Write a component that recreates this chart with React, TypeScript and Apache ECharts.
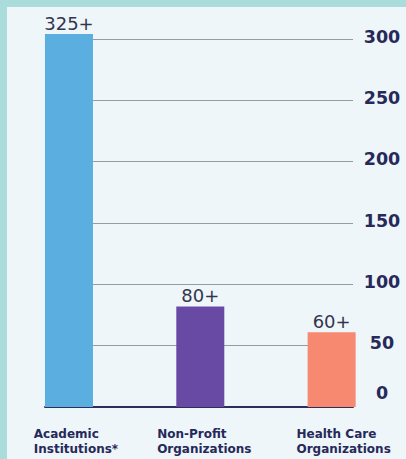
import React, { useEffect, useRef } from "react";
import * as echarts from "echarts";

const categories = ["Academic\nInstitutions*", "Non-Profit\nOrganizations", "Health Care\nOrganizations"];
const values = [304, 82, 61];
const valueLabels = ["325+", "80+", "60+"];
const barColors = ["#5aaee0", "#684aa5", "#f6896f"];
const yTicks = [0, 50, 100, 150, 200, 250, 300];

export default function App() {
  const ref = useRef<HTMLDivElement>(null);
  useEffect(() => {
    if (!ref.current) return;
    const chart = echarts.init(ref.current, null, { renderer: "svg" });
    const navy = "#26295a";
    const catPads = [14, 8, 24];
    chart.setOption({
      animation: false,
      backgroundColor: "transparent",
      grid: [
        { left: 3.3, width: 394, top: 39, bottom: 52, containLabel: false },
        { left: 45, right: 53, top: 39, bottom: 52, containLabel: false },
      ],
      xAxis: [
        {
          gridIndex: 0,
          type: "category",
          data: categories,
          axisLine: { show: false },
          axisTick: { show: false },
          axisLabel: {
            margin: 19,
            align: "center",
            formatter: (v: string, i: number) =>
              v
                .split("\n")
                .map((s) => `{r${i}|${s}}`)
                .join("\n"),
            rich: Object.fromEntries(
              catPads.map((p, i) => [
                `r${i}`,
                {
                  fontFamily: "DejaVu Sans",
                  fontWeight: "bold",
                  fontSize: 12,
                  lineHeight: 15,
                  color: navy,
                  align: "left",
                  padding: [0, 0, 0, p],
                },
              ])
            ),
          },
        },
        {
          gridIndex: 1,
          type: "value",
          min: 0,
          max: 1,
          axisLine: { show: true, onZero: true, lineStyle: { color: "#2c2e5c", width: 2 } },
          axisTick: { show: false },
          axisLabel: { show: false },
          splitLine: { show: false },
        },
      ],
      yAxis: [
        {
          gridIndex: 0,
          type: "value",
          min: 0,
          max: 300,
          interval: 50,
          show: false,
        },
        {
          gridIndex: 1,
          type: "value",
          position: "right",
          min: 0,
          max: 300,
          interval: 50,
          axisLine: { show: false },
          axisTick: { show: false },
          splitLine: { show: true, lineStyle: { color: "#939ca6", width: 1 } },
          axisLabel: {
            margin: 29,
            align: "center",
            formatter: (v: number) => (v === yTicks[0] ? `{z|${v}}` : `{n|${v}}`),
            rich: {
              n: {
                fontFamily: "DejaVu Sans",
                fontWeight: "bold",
                fontSize: 17.5,
                color: navy,
                padding: [0, 0, 5, 0],
              },
              z: {
                fontFamily: "DejaVu Sans",
                fontWeight: "bold",
                fontSize: 17.5,
                color: navy,
                padding: [0, 0, 28, 0],
              },
            },
          },
        },
      ],
      series: [
        {
          type: "bar",
          xAxisIndex: 0,
          yAxisIndex: 0,
          clip: false,
          barWidth: 48,
          data: values.map((v, i) => ({ value: v, itemStyle: { color: barColors[i] } })),
          label: {
            show: true,
            position: "top",
            distance: 2,
            fontFamily: "DejaVu Sans",
            fontSize: 18,
            color: "#33354f",
            formatter: (p: any) => valueLabels[p.dataIndex],
          },
          z: 3,
        },
      ],
    });
    return () => chart.dispose();
  }, []);
  return (
    <div style={{ position: "fixed", left: 0, top: 0, width: 406, height: 459, background: "#abdcdc" }}>
      <div style={{ position: "absolute", left: 7, top: 7, right: 0, bottom: 0, background: "#eef6f9" }} />
      <div ref={ref} style={{ position: "absolute", left: 0, top: 0, width: 406, height: 459 }} />
    </div>
  );
}
